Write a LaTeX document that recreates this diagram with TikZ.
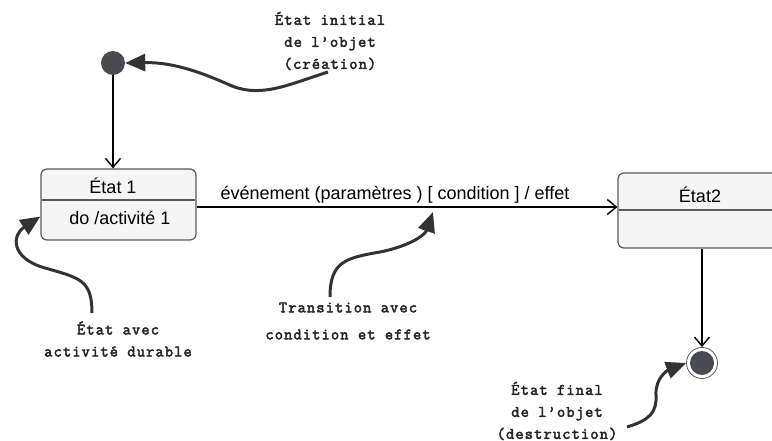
\documentclass[tikz,border=0pt]{standalone}
\usepackage{fontspec}
\setmainfont{Liberation Sans}
\newfontfamily\annfont{Latin Modern Mono}[LetterSpace=7,FakeBold=3]
\usetikzlibrary{arrows.meta}
\definecolor{boxfill}{HTML}{F5F5F5}
\definecolor{boxline}{HTML}{5A5A5A}
\definecolor{dotfill}{HTML}{4A4A52}
\definecolor{anncol}{HTML}{333333}
\begin{document}
\begin{tikzpicture}[x=1pt,y=-1pt,
  state/.style={draw=boxline,fill=boxfill,line width=1.2pt,rounded corners=6pt,inner sep=0pt},
  divider/.style={draw=boxline,line width=1.2pt},
  conn/.style={line width=1.4pt,-{Straight Barb[length=9pt,width=15pt,line width=1.4pt]}},
  ann/.style={anncol,line width=3pt,-{Triangle[length=20pt,width=17pt]}},
  anntext/.style={font=\annfont\fontsize{16}{22}\selectfont,align=center,text=black!85},
  stxt/.style={font=\fontsize{18}{20}\selectfont},
  ]
\useasboundingbox (0,0) rectangle (772,441);
% states
\node[state,minimum width=155pt,minimum height=71pt] (s1) at (118.5,204.5) {};
\draw[divider] (42,200) -- (195,200);
\node[stxt] (s1name) at (113,186) {État 1};
\node[stxt] (s1do) at (120,218) {do /activité 1};
\node[state,minimum width=180pt,minimum height=75pt] (s2) at (708,210.5) {};
\draw[divider] (619,210) -- (798,210);
\node[stxt] (s2name) at (700,195) {État2};
% pseudo states
\node[circle,fill=dotfill,minimum size=24pt,inner sep=0pt] (init) at (113,63) {};
\node[circle,draw=boxline,line width=0.8pt,fill=white,minimum size=31pt,inner sep=0pt] (fin) at (702,363) {};
\node[circle,fill=dotfill,minimum size=24pt,inner sep=0pt] (finin) at (fin) {};
% transitions
\draw[conn] (init.south) -- (init.south |- s1.north);
\draw[conn] ([yshift=-2.5pt]s1.east) -- ([yshift=-2.5pt]s1.east -| s2.west);
\node[font=\fontsize{18}{20}\selectfont] (lbl) at (395,195) {événement (paramètres ) [ condition ] / effet};
\draw[conn] (s2.south -| fin) -- (fin.north);
% annotations
\node[anntext] (t1) at (330,41) {État initial\\de l’objet\\(création)};
\node[anntext] (t2) at (118,339) {État avec\\activité durable};
\node[anntext,font=\annfont\fontsize{16}{27}\selectfont] (t3) at (348,321) {Transition avec\\condition et effet};
\node[anntext] (t4) at (557,411) {État final\\de l’objet\\(destruction)};
\coordinate (a1) at (328,72);
\coordinate (a2) at (92,313);
\coordinate (a3) at (330,297);
\coordinate (a4) at (627,427);
\coordinate (tip3) at (433,212);
\draw[ann] (a1) .. controls (290,84) and (262,98) .. (232,86) .. controls (205,74) and (175,62) .. (init.east);
\draw[ann] (a2) .. controls (92,280) and (80,278) .. (45,268) .. controls (10,258) and (12,235) .. ([yshift=-12pt]s1.west);
\draw[ann] (a3) .. controls (330,262) and (345,258) .. (380,252) .. controls (410,246) and (425,235) .. (tip3);
\draw[ann] (a4) .. controls (650,420) and (657,412) .. (656,395) .. controls (655,378) and (668,370) .. (fin.west);
\end{tikzpicture}
\end{document}
